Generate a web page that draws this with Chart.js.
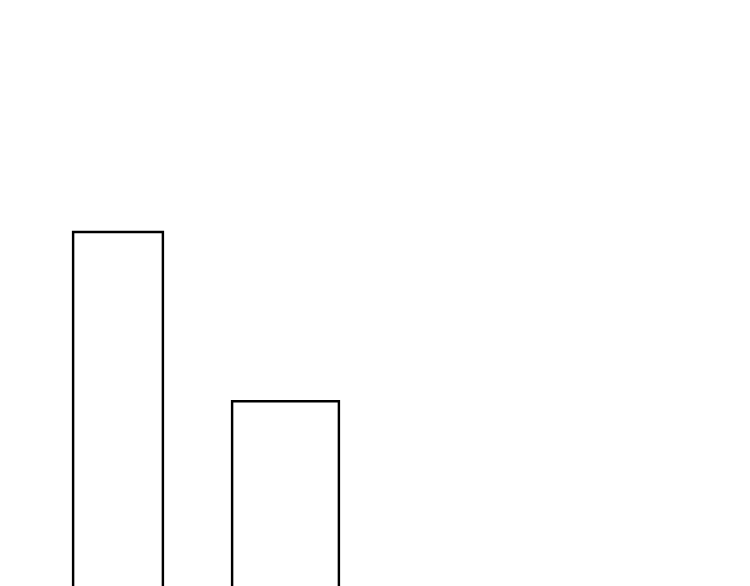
<!DOCTYPE html>
<html>
<head>
<meta charset="utf-8">
<script src="https://cdn.jsdelivr.net/npm/chart.js@4/dist/chart.umd.min.js"></script>
<style>
  html, body { margin: 0; padding: 0; background: #fff; overflow: hidden; }
  #wrap { width: 750px; height: 586px; position: relative; }
</style>
</head>
<body>
<div id="wrap"><canvas id="chart"></canvas></div>
<script>
// Two outlined bars, no axes or text in the picture.
const CATEGORIES = ["1", "2"];
const VALUES = [60.6, 31.7];
const Y_MIN = 0;
const Y_MAX = 100;

// Bars are drawn with slightly different widths in the reference.
const BAR_WIDTHS = [92, 109];

document.addEventListener("DOMContentLoaded", () => {
  const datasets = VALUES.map((value, index) => ({
    data: CATEGORIES.map((_, i) => (i === index ? value : null)),
    backgroundColor: "rgba(255, 255, 255, 0)",
    borderColor: "#000000",
    borderWidth: 2,
    barThickness: BAR_WIDTHS[index],
    grouped: false,
  }));

  new Chart(document.getElementById("chart"), {
    type: "bar",
    data: {
      labels: CATEGORIES,
      datasets,
    },
    options: {
      responsive: true,
      maintainAspectRatio: false,
      animation: false,
      layout: {
        padding: { left: 34.25, right: 380.75, top: 0, bottom: 0 },
      },
      plugins: {
        legend: { display: false },
        tooltip: { enabled: false },
      },
      scales: {
        x: { display: false },
        y: { display: false, min: Y_MIN, max: Y_MAX },
      },
    },
  });
});
</script>
</body>
</html>
